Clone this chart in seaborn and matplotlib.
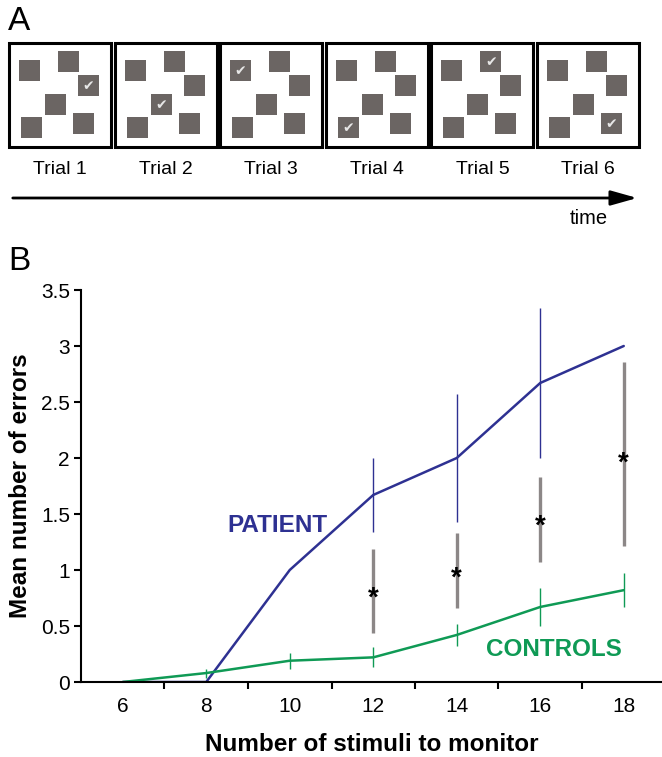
import numpy as np
import pandas as pd
import matplotlib
matplotlib.use("Agg")
import matplotlib.pyplot as plt
from matplotlib.patches import Rectangle
import seaborn as sns

# ---- panel B data ----
set_sizes = [6, 8, 10, 12, 14, 16, 18]
patient_mean = [0, 0, 1.0, 1.67, 2.0, 2.67, 3.0]
patient_err = [0, 0, 0, 0.33, 0.57, 0.67, 0]
controls_mean = [0, 0.08, 0.19, 0.22, 0.42, 0.67, 0.82]
controls_err = [0, 0.04, 0.07, 0.09, 0.10, 0.17, 0.15]

# gray significance bars + asterisks
sig_x = [12, 14, 16, 18]
sig_low = [0.44, 0.66, 1.07, 1.21]
sig_high = [1.19, 1.33, 1.83, 2.86]
star_y = [0.81, 0.99, 1.46, 2.02]

# ---- panel A layout (illustration) ----
trial_labels = ["Trial 1", "Trial 2", "Trial 3", "Trial 4", "Trial 5", "Trial 6"]
square_offsets = [(10, 17), (49, 8), (69, 32), (36, 51), (12, 74), (64, 70)]
checked_square = [2, 3, 0, 4, 1, 5]

BLUE = "#2e3192"
GREEN = "#0f9a55"
GRAY_SQ = "#6b6563"
GRAY_BAR = "#8c8787"

sns.set_style("ticks")
plt.rcParams["font.family"] = ["Liberation Sans", "DejaVu Sans"]
plt.rcParams.update({"text.color": "black", "axes.labelcolor": "black",
                     "xtick.color": "black", "ytick.color": "black",
                     "axes.edgecolor": "black"})

W, H = 662, 757
fig = plt.figure(figsize=(W / 100, H / 100), dpi=100)

# ---------------- panel A ----------------
axA = fig.add_axes([0, 1 - 235 / H, 1, 235 / H])
axA.set_xlim(0, W)
axA.set_ylim(235, 0)
axA.axis("off")

box_w, box_h, sq = 102, 104, 21
for i, lab in enumerate(trial_labels):
    left = 9 + i * 105.6
    top = 43
    axA.add_patch(Rectangle((left, top), box_w, box_h, fill=False,
                            edgecolor="black", lw=2.2))
    for j, (dx, dy) in enumerate(square_offsets):
        axA.add_patch(Rectangle((left + dx, top + dy), sq, sq,
                                facecolor=GRAY_SQ, edgecolor="none"))
        if j == checked_square[i]:
            axA.text(left + dx + sq / 2, top + dy + sq / 2 + 1, "\u2714",
                     family="DejaVu Sans", fontsize=10, color="#e6e6e6",
                     ha="center", va="center")
    axA.text(left + box_w / 2, 170, lab, ha="center", va="center", fontsize=14)

axA.annotate("", xy=(640, 198), xytext=(10, 198),
             arrowprops=dict(arrowstyle="-|>,head_length=1.6,head_width=0.45",
                             color="black", lw=2))
axA.text(589, 219, "time", ha="center", va="center", fontsize=14.5)
axA.text(8, 22, "A", ha="left", va="center", fontsize=24)

fig.text(8 / W, 1 - 262 / H, "B", ha="left", va="center", fontsize=24)

# ---------------- panel B ----------------
axB = fig.add_axes([81 / W, (H - 682) / H, (W - 81) / W, (682 - 290) / H])

df = pd.DataFrame({
    "set_size": set_sizes * 2,
    "errors": patient_mean + controls_mean,
    "group": ["PATIENT"] * len(set_sizes) + ["CONTROLS"] * len(set_sizes),
})
sns.lineplot(data=df, x="set_size", y="errors", hue="group",
             palette={"PATIENT": BLUE, "CONTROLS": GREEN},
             lw=1.8, legend=False, ax=axB)

p_err = np.array(patient_err)
mask = p_err > 0
axB.vlines(np.array(set_sizes)[mask], (np.array(patient_mean) - p_err)[mask],
           (np.array(patient_mean) + p_err)[mask], color=BLUE, lw=1)
c_err = np.array(controls_err)
mask = c_err > 0
axB.vlines(np.array(set_sizes)[mask], (np.array(controls_mean) - c_err)[mask],
           (np.array(controls_mean) + c_err)[mask], color=GREEN, lw=1)

axB.vlines(sig_x, sig_low, sig_high, color=GRAY_BAR, lw=2.4)
for x, y in zip(sig_x, star_y):
    axB.text(x, y - 0.07, "*", ha="center", va="center", fontsize=20,
             fontweight="bold", color="black")

axB.text(8.5, 1.40, "PATIENT", color=BLUE, fontsize=17.5, fontweight="bold",
         ha="left", va="center")
axB.text(14.7, 0.29, "CONTROLS", color=GREEN, fontsize=17.5, fontweight="bold",
         ha="left", va="center")

axB.set_xlim(5, 5 + (W - 81) / 41.75)
axB.set_ylim(0, 3.5)
axB.set_xticks(set_sizes)
axB.set_xticklabels([str(s) for s in set_sizes])
axB.set_xticks(np.arange(7, 19, 2), minor=True)
axB.tick_params(axis="x", which="major", length=0, pad=11, labelsize=15)
axB.tick_params(axis="x", which="minor", length=5, width=1.5, direction="out")
yt = np.arange(0, 3.51, 0.5)
axB.set_yticks(yt)
axB.set_yticklabels([f"{v:g}" for v in yt])
axB.tick_params(axis="y", length=5, width=1.5, direction="out", labelsize=15,
                pad=3)
for s in ["left", "bottom"]:
    axB.spines[s].set_linewidth(1.5)
sns.despine(ax=axB)

axB.set_xlabel("Number of stimuli to monitor", fontsize=17.5, fontweight="bold")
axB.set_ylabel("Mean number of errors", fontsize=17.5, fontweight="bold")
axB.xaxis.set_label_coords((372 - 81) / (W - 81), (682 - 733) / 392)
axB.yaxis.set_label_coords((32 - 81) / (W - 81), 0.5)

fig.savefig("out.png", dpi=100)
